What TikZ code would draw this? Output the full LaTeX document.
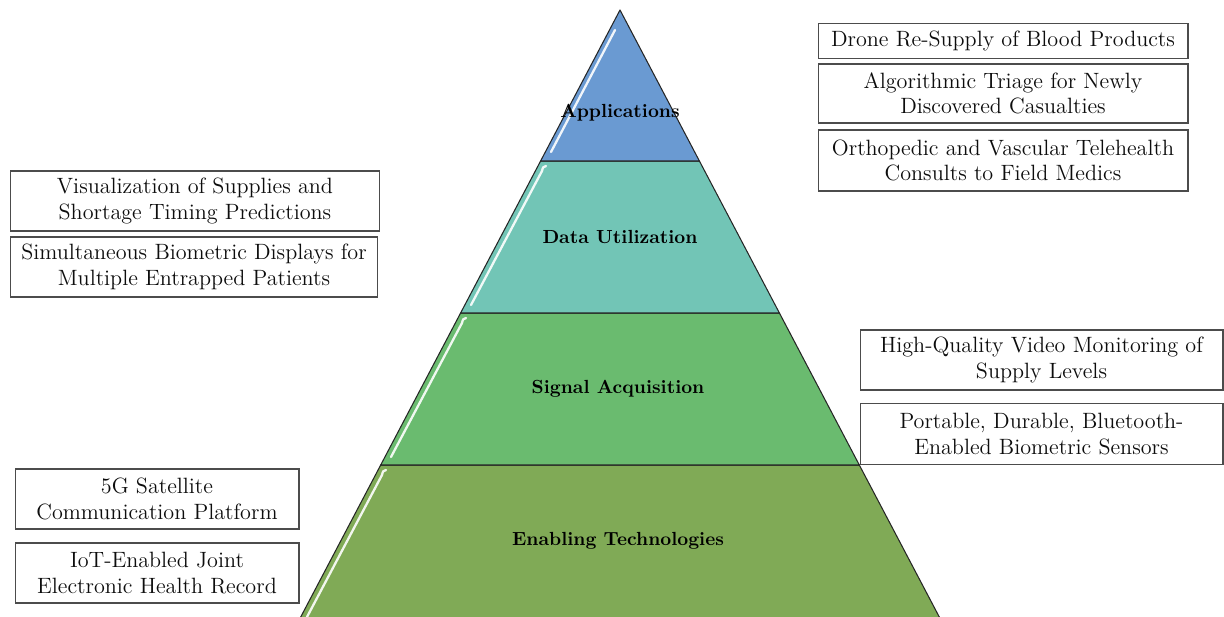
\documentclass[tikz,border=0pt]{standalone}
\usepackage{fontspec}
\begin{document}
\begin{tikzpicture}[x=0.02cm,y=-0.02cm,
  band/.style={draw=black!85,line width=0.6pt,line join=round},
  gloss/.style={draw=white,line width=1.3pt,line cap=round,opacity=0.9},
  tier/.style={font=\fontsize{10.8}{12}\selectfont\bfseries,text=black},
  infobox/.style={draw=black!70,line width=0.6pt,fill=white,inner sep=0pt,
    align=center,font=\fontsize{12.6}{14.4}\selectfont,text=black!95}]
\definecolor{appblue}{HTML}{6A9AD2}
\definecolor{datateal}{HTML}{72C5B6}
\definecolor{siggreen}{HTML}{6ABB6F}
\definecolor{enagreen}{HTML}{80AA56}
\useasboundingbox (0,0) rectangle (1224,617);
\clip (0,0) rectangle (1224,617);

% pyramid tiers, bottom to top
\path[band,fill=enagreen] (380.7,465) -- (859.3,465) -- (943.5,625) -- (296.5,625) -- cycle;
\path[band,fill=siggreen] (460.6,313) -- (779.4,313) -- (859.3,465) -- (380.7,465) -- cycle;
\path[band,fill=datateal] (540.6,161) -- (699.4,161) -- (779.4,313) -- (460.6,313) -- cycle;
\path[band,fill=appblue] (620,10) -- (699.4,161) -- (540.6,161) -- cycle;

% glossy highlights along the left edges
\draw[gloss] (615,30) -- (551,152);
\draw[gloss] (546,166) .. controls (543,167) .. (542,171) -- (471,305);
\draw[gloss] (466,318) .. controls (463,319) .. (462,323) -- (391,457);
\draw[gloss] (386,470) .. controls (383,471) .. (382,475) -- (307,617);

% tier labels
\node[tier] (tApp) at (620,113) {Applications};
\node[tier] (tData) at (620,237) {Data Utilization};
\node[tier] (tSig) at (618,389) {Signal Acquisition};
\node[tier] (tEna) at (618,541) {Enabling Technologies};

% applications
\node[infobox,minimum width=7.4cm,minimum height=0.7cm] (drone) at (1003,41)
  {Drone Re-Supply of Blood Products};
\node[infobox,minimum width=7.4cm,minimum height=1.18cm] (triage) at (1003,93.5)
  {Algorithmic Triage for Newly\\Discovered Casualties};
\node[infobox,minimum width=7.4cm,minimum height=1.22cm] (tele) at (1003,160.5)
  {Orthopedic and Vascular Telehealth\\Consults to Field Medics};

% data utilization
\node[infobox,minimum width=7.4cm,minimum height=1.2cm] (visual) at (195,201)
  {Visualization of Supplies and\\Shortage Timing Predictions};
\node[infobox,minimum width=7.36cm,minimum height=1.2cm] (displays) at (194,267)
  {Simultaneous Biometric Displays for\\Multiple Entrapped Patients};

% signal acquisition
\node[infobox,minimum width=7.26cm,minimum height=1.2cm] (video) at (1041.5,360)
  {High-Quality Video Monitoring of\\Supply Levels};
\node[infobox,minimum width=7.26cm,minimum height=1.22cm] (sensors) at (1041.5,434)
  {Portable, Durable, Bluetooth-\\Enabled Biometric Sensors};

% enabling technologies
\node[infobox,minimum width=5.68cm,minimum height=1.2cm] (sat) at (157,499)
  {5G Satellite\\Communication Platform};
\node[infobox,minimum width=5.68cm,minimum height=1.2cm] (ehr) at (157,573)
  {IoT-Enabled Joint\\Electronic Health Record};
\end{tikzpicture}
\end{document}
